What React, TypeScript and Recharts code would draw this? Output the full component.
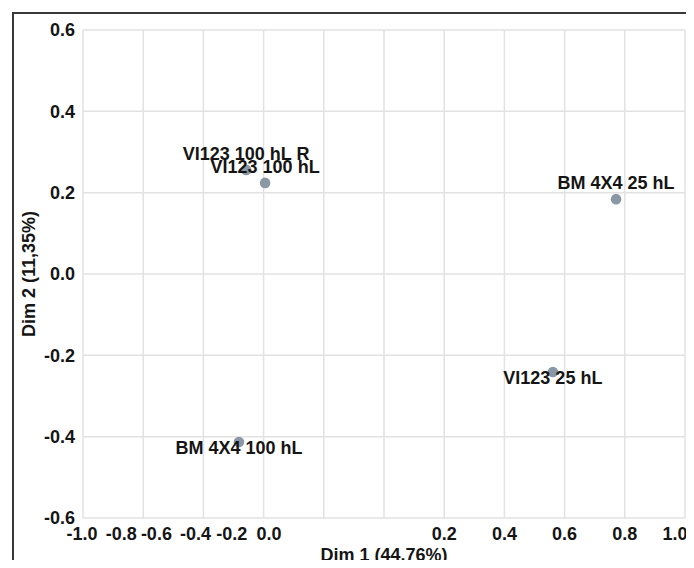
import React from 'react';
import {
    ScatterChart,
    Scatter,
    XAxis,
    YAxis,
    CartesianGrid,
    LabelList,
    Label
} from 'recharts';

// PCA coordinates
const samples = ['VI123 100 hL R', 'VI123 100 hL', 'BM 4X4 25 hL', 'VI123 25 hL', 'BM 4X4 100 hL'];
const dim1 = [-0.458, -0.395, 0.771, 0.561, -0.482];
const dim2 = [0.256, 0.224, 0.184, -0.241, -0.413];

const xTicks = [-1.0, -0.8, -0.6, -0.4, -0.2, 0.0, 0.2, 0.4, 0.6, 0.8, 1.0];
const yTicks = [-0.6, -0.4, -0.2, 0.0, 0.2, 0.4, 0.6];

const data = samples.map((name, i) => ({ name, x: dim1[i], y: dim2[i] }));

// labels drawn under their point instead of above
const BELOW = new Set(['VI123 25 hL', 'BM 4X4 100 hL']);

// the source squeezes the negative x labels to the left
const TICK_NUDGE: Record<string, number> = {
    '-1.0': -1, '-0.8': -22, '-0.6': -47, '-0.4': -68, '-0.2': -92, '0.0': -115, '1.0': -10
};

const FONT = '"Liberation Sans", Arial, sans-serif';
const TEXT = '#151515';
const DOT = '#8a97a5';

const fmt = (v: number) => (Math.abs(v) < 1e-9 ? 0 : v).toFixed(1);

const XTick = (props: any) => {
    const { x, y, payload } = props;
    const label = fmt(payload.value);
    return (
        <text
            x={x + (TICK_NUDGE[label] ?? 0)}
            y={y}
            dy="0.75em"
            textAnchor="middle"
            fontFamily={FONT}
            fontSize={18}
            fontWeight="bold"
            fill={TEXT}
        >
            {label}
        </text>
    );
};

const PointLabel = (props: any) => {
    const vb = props.viewBox ?? props;
    const cx = vb.x + (vb.width ?? 0) / 2;
    const cy = vb.y + (vb.height ?? 0) / 2;
    const below = BELOW.has(props.value);
    return (
        <text
            x={cx}
            y={below ? cy + 12 : cy - 10}
            textAnchor="middle"
            fontFamily={FONT}
            fontSize={18}
            fontWeight="bold"
            fill={TEXT}
        >
            {props.value}
        </text>
    );
};

export default function App() {
    return (
        <div style={{ position: 'relative', width: 694, height: 568, margin: -8, overflow: 'hidden', background: '#fff' }}>
            <div
                style={{
                    position: 'absolute',
                    left: 12,
                    top: 12,
                    width: 720,
                    height: 600,
                    borderTop: '2px solid #383838',
                    borderLeft: '2px solid #383838'
                }}
            />
            <ScatterChart width={694} height={568} margin={{ top: 30, right: 9, bottom: 0, left: 20 }}>
                <CartesianGrid stroke="#e2e2e2" strokeWidth={1.5} />
                <XAxis
                    type="number"
                    dataKey="x"
                    domain={[-1, 1]}
                    ticks={xTicks}
                    interval={0}
                    axisLine={false}
                    tickLine={false}
                    height={50}
                    tick={<XTick />}
                >
                    <Label
                        value="Dim 1 (44.76%)"
                        position="insideBottom"
                        offset={7}
                        style={{ fontFamily: FONT, fontSize: 18, fontWeight: 'bold', fill: TEXT }}
                    />
                </XAxis>
                <YAxis
                    type="number"
                    dataKey="y"
                    domain={[-0.6, 0.6]}
                    ticks={yTicks}
                    interval={0}
                    axisLine={false}
                    tickLine={false}
                    width={63}
                    tickFormatter={fmt}
                    tick={{ fontFamily: FONT, fontSize: 18, fontWeight: 'bold', fill: TEXT }}
                >
                    <Label
                        content={() => (
                            <text
                                transform="translate(29, 274) rotate(-90)"
                                textAnchor="middle"
                                dy="0.35em"
                                fontFamily={FONT}
                                fontSize={18}
                                fontWeight="bold"
                                fill={TEXT}
                            >
                                Dim 2 (11,35%)
                            </text>
                        )}
                    />
                </YAxis>
                <Scatter
                    data={data}
                    isAnimationActive={false}
                    shape={(p: any) => <circle cx={p.cx} cy={p.cy} r={5.3} fill={DOT} />}
                >
                    <LabelList dataKey="name" content={<PointLabel />} />
                </Scatter>
            </ScatterChart>
        </div>
    );
}
